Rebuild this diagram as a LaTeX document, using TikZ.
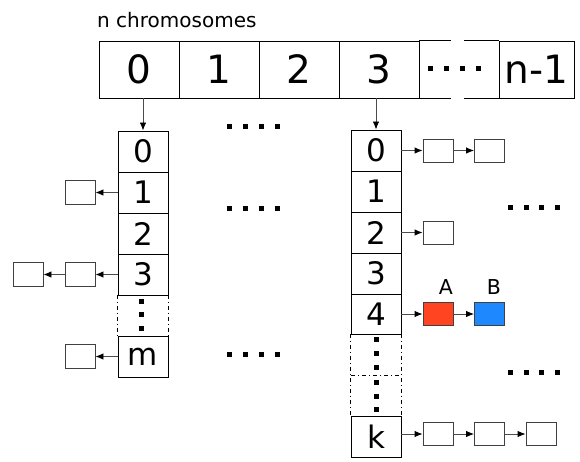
\documentclass[tikz,border=0pt]{standalone}
\usepackage{fontspec}
\setmainfont{DejaVu Sans}
\usetikzlibrary{arrows.meta}
\definecolor{redA}{RGB}{255,68,34}
\definecolor{blueB}{RGB}{30,136,255}
\begin{document}
\begin{tikzpicture}[x=1pt,y=-1pt,
  topcell/.style={draw, line width=0.95pt, minimum height=57pt, inner sep=0pt, font=\fontsize{39}{39}\selectfont},
  cell/.style={draw, line width=0.95pt, minimum width=50pt, minimum height=41pt, inner sep=0pt, font=\fontsize{31}{31}\selectfont},
  blank/.style={minimum width=50pt, minimum height=41pt, inner sep=0pt},
  box/.style={draw=black!75, line width=0.9pt, minimum width=30pt, minimum height=23pt, inner sep=0pt},
  arr/.style={-{Latex[length=8pt,width=6.5pt,color=black]}, line width=0.9pt, draw=black!70},
  dotsq/.style={fill=black, minimum size=5pt, inner sep=0pt},
  dsh/.style={line width=0.95pt, dash pattern=on 4pt off 3pt on 1pt off 3pt},
  lbl/.style={font=\fontsize{20.5}{20.5}\selectfont, inner sep=0pt}]
\useasboundingbox (0,0) rectangle (580,461);

% title
\node[anchor=base west, font=\fontsize{20}{20}\selectfont, inner sep=0pt] (title) at (97,27) {n chromosomes};

% top array
\node[topcell, minimum width=80pt] (c0) at (139,69.5) {0};
\node[topcell, minimum width=80pt] (c1) at (219,69.5) {1};
\node[topcell, minimum width=80pt] (c2) at (299,69.5) {2};
\node[topcell, minimum width=80pt] (c3) at (379,69.5) {3};
\node[minimum width=80pt, minimum height=57pt, inner sep=0pt] (cd) at (459,69.5) {};
\node[topcell, minimum width=75pt] (cn) at (536.5,69.5) {n-1};
\draw[line width=0.95pt] (cd.north west) -- ++(32,0);
\draw[line width=0.95pt] (cd.south west) -- ++(32,0);
\draw[line width=0.95pt] (cd.north east) -- ++(-35,0);
\draw[line width=0.95pt] (cd.south east) -- ++(-35,0);
\foreach \x [count=\i] in {430,446,462,478} \node[dotsq] (td\i) at (\x,68) {};

% left column
\node[cell] (l0) at (143,151.5) {0};
\node[cell] (l1) at (143,192.5) {1};
\node[cell] (l2) at (143,233.5) {2};
\node[cell] (l3) at (143,274.5) {3};
\node[blank] (ld) at (143,315.5) {};
\node[cell] (lm) at (143,356.5) {m};
\draw[dsh] (ld.north west) -- (ld.south west);
\draw[dsh] (ld.north east) -- (ld.south east);
\foreach \y [count=\i] in {301,314,328} \node[dotsq] (lv\i) at (141,\y) {};

% left boxes
\node[box, minimum height=24pt] (lb1) at (80,192.5) {};
\node[box, minimum height=24pt] (lb3a) at (80,274.5) {};
\node[box, minimum height=24pt] (lb3b) at (28,274.5) {};
\node[box, minimum height=24pt] (lbm) at (80,356.5) {};
\draw[arr] (l1) -- (lb1);
\draw[arr] (l3) -- (lb3a);
\draw[arr] (lb3a) -- (lb3b);
\draw[arr] (lm) -- (lbm);

% right column
\node[cell] (r0) at (376,150.5) {0};
\node[cell] (r1) at (376,191.5) {1};
\node[cell] (r2) at (376,232.5) {2};
\node[cell] (r3) at (376,273.5) {3};
\node[cell, minimum height=40pt] (r4) at (376,314) {4};
\node[blank] (rd1) at (376,354.5) {};
\node[blank] (rd2) at (376,395.5) {};
\node[cell] (rk) at (376,436.5) {k};
\draw[dsh] (rd1.north west) -- (rd2.south west);
\draw[dsh] (rd1.north east) -- (rd2.south east);
\draw[dsh] (rd1.south west) -- (rd1.south east);
\foreach \y [count=\i] in {339,353,367,382,396,409} \node[dotsq] (rv\i) at (376,\y) {};

% right boxes
\node[box] (r0a) at (438,150.5) {};
\node[box] (r0b) at (489.5,150.5) {};
\node[box] (r2a) at (438,232.5) {};
\node[box, fill=redA] (r4a) at (438,314) {};
\node[box, fill=blueB] (r4b) at (489.5,314) {};
\node[box] (rka) at (438,434) {};
\node[box] (rkb) at (489.5,434) {};
\node[box] (rkc) at (541,434) {};
\node[lbl] (la) at (446,287.5) {A};
\node[lbl] (lbB) at (494,287.5) {B};
\draw[arr] (r0) -- (r0a);
\draw[arr] (r0a) -- (r0b);
\draw[arr] (r2) -- (r2a);
\draw[arr] (r4) -- (r4a);
\draw[arr] (r4a) -- (r4b);
\draw[arr] (rk.east |- rka.west) -- (rka);
\draw[arr] (rka) -- (rkb);
\draw[arr] (rkb) -- (rkc);

% arrows from top array
\draw[arr] (l0.north |- c0.south) -- (l0.north);
\draw[arr] (r0.north |- c3.south) -- (r0.north);

% dot groups
\foreach \x [count=\i] in {229,245,261,277} {
  \node[dotsq] (ma\i) at (\x,126) {};
  \node[dotsq] (mb\i) at (\x,208) {};
  \node[dotsq] (mc\i) at (\x,354) {};
}
\foreach \x [count=\i] in {510,526,541,557} {
  \node[dotsq] (ra\i) at (\x,207) {};
  \node[dotsq] (rb\i) at (\x,372) {};
}
\end{tikzpicture}
\end{document}
